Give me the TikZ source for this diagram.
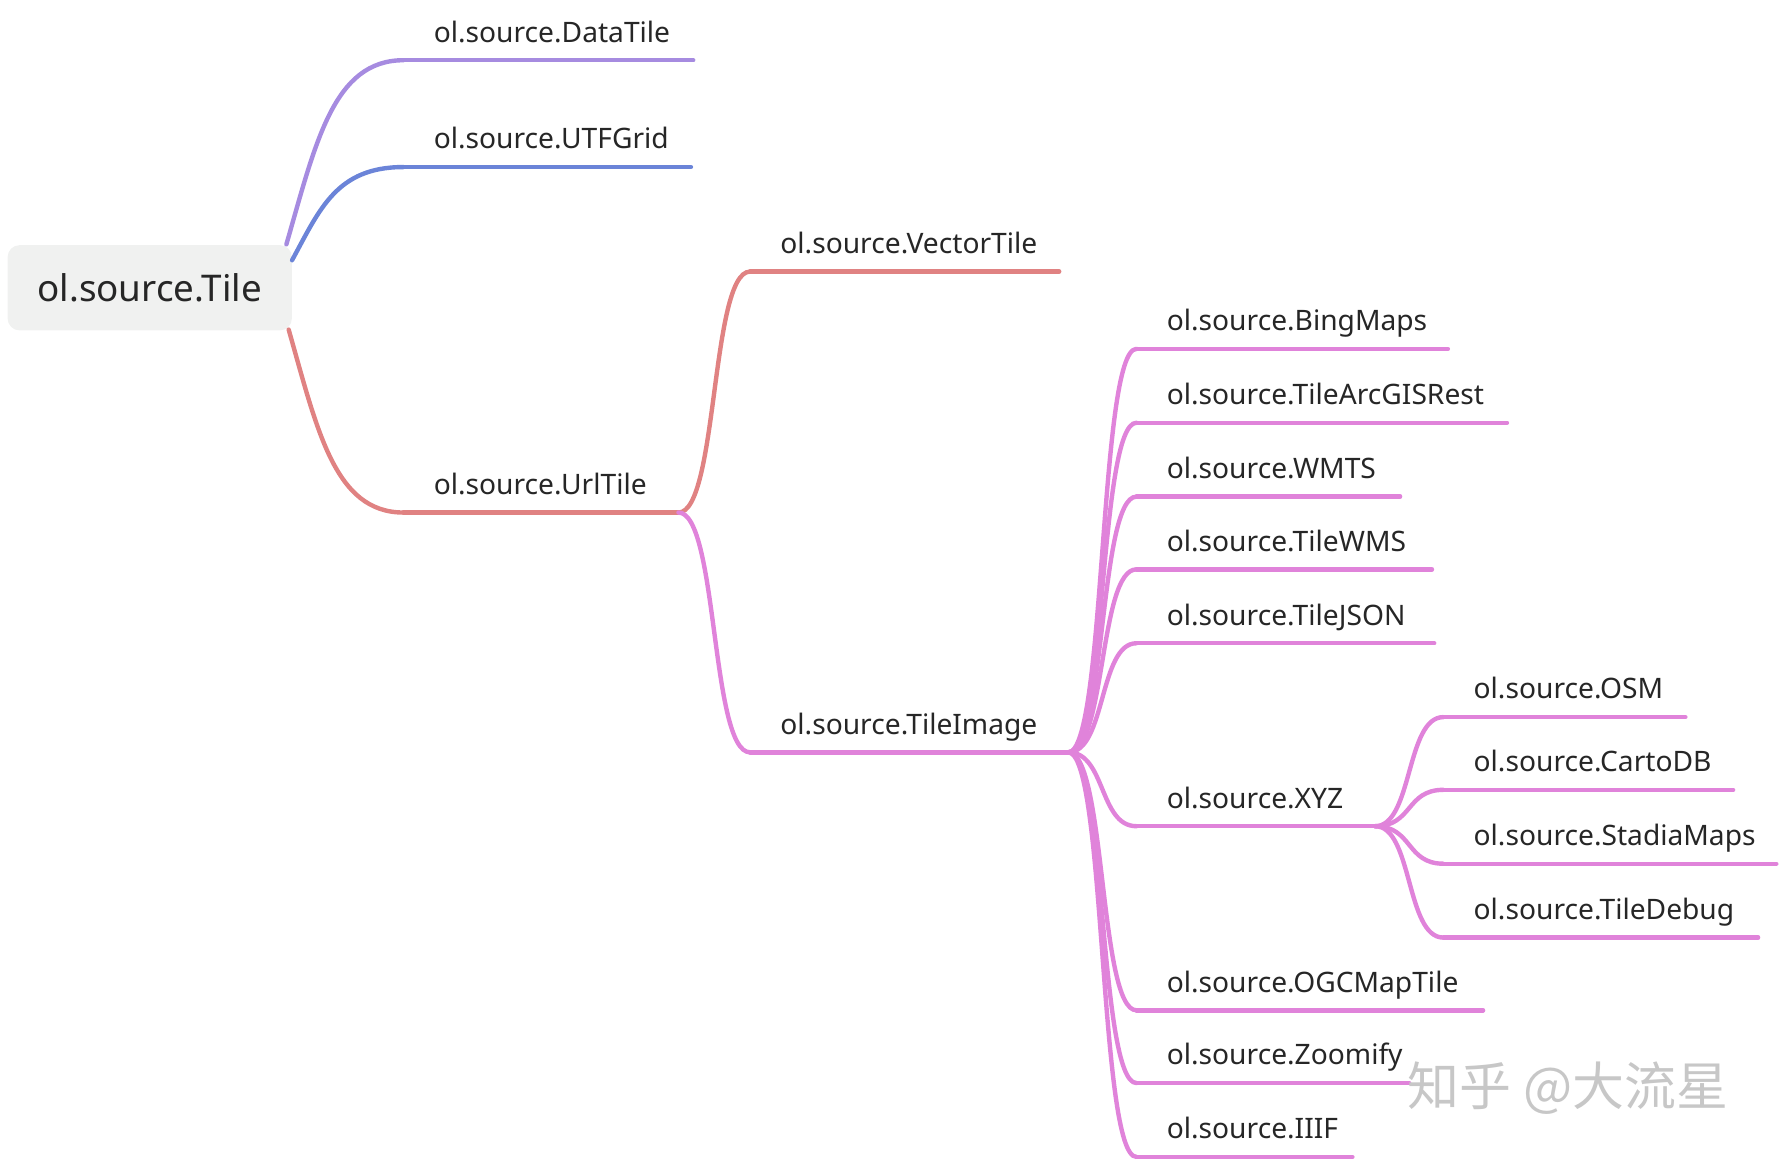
\documentclass[tikz,border=0pt]{standalone}
\usepackage{fontspec}
\usetikzlibrary{calc}
\setmainfont{Noto Sans}
\newfontfamily\cjkf{Noto Sans CJK SC}
\definecolor{cpur}{HTML}{A68BE0}
\definecolor{cblu}{HTML}{6B84D8}
\definecolor{cred}{HTML}{E08282}
\definecolor{cpink}{HTML}{E083DA}
\definecolor{rootbg}{HTML}{F0F1F0}
\begin{document}
\begin{tikzpicture}[x=0.01cm,y=-0.01cm,
  lbl/.style={anchor=base west,inner sep=0,font=\fontsize{7.05pt}{8pt}\selectfont,text=black!85},
  br/.style={line width=1.1pt,line cap=round},
  link/.style={br,to path={let \p1=(\tikztostart), \p2=(\tikztotarget) in
     .. controls ({0.45*\x1+0.55*\x2},\y1) and ({0.55*\x1+0.45*\x2},\y2) .. (\tikztotarget)}},
  rlink/.style={br,to path={let \p1=(\tikztostart), \p2=(\tikztotarget) in
     .. controls ({0.75*\x1+0.25*\x2},{0.45*\y1+0.55*\y2}) and ({0.6*\x1+0.4*\x2},\y2) .. (\tikztotarget)}}]
\useasboundingbox (0,0) rectangle (1568,1022);
\node[fill=rootbg,rounded corners=3pt,minimum width=2.5cm,minimum height=0.75cm,inner sep=0,anchor=north west,font=\fontsize{9.2pt}{11pt}\selectfont,text=black!85] (root) at (6,215) {ol.source.Tile};
\def\branch#1#2#3#4#5#6{%
  \coordinate (#1s) at (#2,#4); \coordinate (#1e) at (#3,#4);
  \draw[br,#5] (#1s) -- (#1e);
  \node[lbl] (#1) at ($(#1s)+(26,-16)$) {#6};}
\branch{dt}{355}{610}{53}{cpur}{ol.source.DataTile}
\branch{utf}{355}{608}{147}{cblu}{ol.source.UTFGrid}
\branch{url}{355}{597}{451}{cred}{ol.source.UrlTile}
\branch{vt}{660}{932}{239}{cred}{ol.source.VectorTile}
\branch{ti}{660}{940}{662}{cpink}{ol.source.TileImage}
\branch{bing}{1000}{1274}{307}{cpink}{ol.source.BingMaps}
\branch{arc}{1000}{1326}{372}{cpink}{ol.source.TileArcGISRest}
\branch{wmts}{1000}{1232}{437}{cpink}{ol.source.WMTS}
\branch{wms}{1000}{1260}{501}{cpink}{ol.source.TileWMS}
\branch{json}{1000}{1262}{566}{cpink}{ol.source.TileJSON}
\branch{xyz}{1000}{1210}{727}{cpink}{ol.source.XYZ}
\branch{ogc}{1000}{1305}{889}{cpink}{ol.source.OGCMapTile}
\branch{zoom}{1000}{1240}{953}{cpink}{ol.source.Zoomify}
\branch{iiif}{1000}{1190}{1018}{cpink}{ol.source.IIIF}
\branch{osm}{1270}{1483}{631}{cpink}{ol.source.OSM}
\branch{carto}{1270}{1525}{695}{cpink}{ol.source.CartoDB}
\branch{stadia}{1270}{1563}{760}{cpink}{ol.source.StadiaMaps}
\branch{debug}{1270}{1547}{825}{cpink}{ol.source.TileDebug}
\coordinate (r1) at (252,215); \coordinate (r2) at (257,229); \coordinate (r3) at (254,290);
\draw[rlink,cpur] (r1) to (dts);
\draw[rlink,cblu] (r2) to (utfs);
\draw[rlink,cred] (r3) to (urls);
\draw[link,cred] (urle) to (vts);
\draw[link,cpink] (urle) to (tis);
\foreach \c in {bing,arc,wmts,wms,json,xyz,ogc,zoom,iiif} \draw[link,cpink] (tie) to (\c s);
\foreach \c in {osm,carto,stadia,debug} \draw[link,cpink] (xyze) to (\c s);
\node[anchor=base west,inner sep=0,font=\cjkf\fontsize{13pt}{14pt}\selectfont,text=black!22] (wm) at (1238,973) {知乎 @大流星};
\end{tikzpicture}
\end{document}
